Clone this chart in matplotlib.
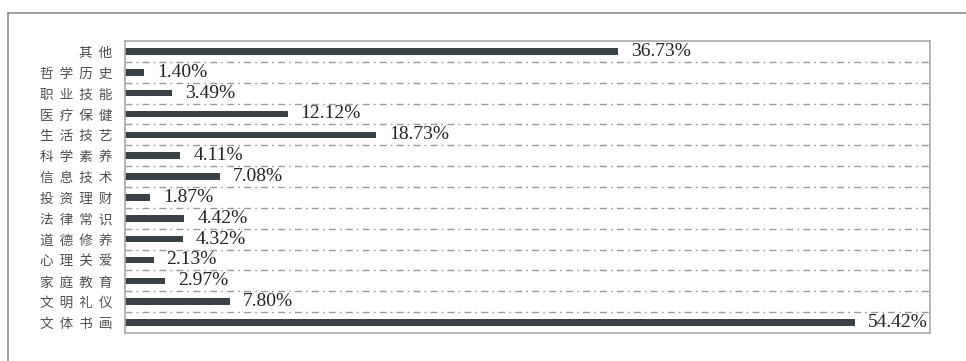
import matplotlib
matplotlib.use('Agg')
import matplotlib.pyplot as plt
from matplotlib.lines import Line2D

# categories from top to bottom, as in the picture
categories = ['其他', '哲学历史', '职业技能', '医疗保健', '生活技艺', '科学素养', '信息技术',
              '投资理财', '法律常识', '道德修养', '心理关爱', '家庭教育', '文明礼仪', '文体书画']
shares = [36.73, 1.40, 3.49, 12.12, 18.73, 4.11, 7.08,
          1.87, 4.42, 4.32, 2.13, 2.97, 7.80, 54.42]
share_labels = ['36.73%', '1.40%', '3.49%', '12.12%', '18.73%', '4.11%', '7.08%',
                '1.87%', '4.42%', '4.32%', '2.13%', '2.97%', '7.80%', '54.42%']


def spaced(label):
    # the original sets the category names with wide letter spacing
    return '  '.join(label)


fig = plt.figure(figsize=(9.66, 3.61), dpi=100)
ax = fig.add_axes([125 / 966, 28 / 361, 805 / 966, 292 / 361])

y = list(range(len(categories)))
ax.barh(y, shares, height=0.32, color='#3b4245')

# value labels right of each bar
for yi, v, lab in zip(y, shares, share_labels):
    ax.annotate(lab, (v, yi), xytext=(13, 0), textcoords='offset pixels',
                ha='left', va='center', fontsize=14, color='#222222',
                family='Liberation Serif')

# dash-dot separators between the rows
for i in range(len(categories) - 1):
    ax.axhline(i + 0.5, color='#9a9a9a', lw=1.0, dashes=(5, 3, 1.2, 3))

ax.set_xlim(0, 60)
ax.set_ylim(len(categories) - 0.5, -0.5)
ax.set_yticks(y)
ax.set_yticklabels([spaced(c) for c in categories], fontsize=9.8, color='#505050',
                   family=['Noto Sans CJK SC', 'DejaVu Sans'])
ax.tick_params(axis='y', length=0, pad=9)
ax.set_xticks([])
for s in ax.spines.values():
    s.set_color('#a8a8a8')
    s.set_linewidth(1.2)

# outer frame of the scanned figure (only top and left visible)
fig.add_artist(Line2D([8 / 966, 1.0], [1 - 13 / 361, 1 - 13 / 361],
                      transform=fig.transFigure, color='#8c8c8c', lw=1.2))
fig.add_artist(Line2D([8 / 966, 8 / 966], [0.0, 1 - 13 / 361],
                      transform=fig.transFigure, color='#8c8c8c', lw=1.2))

fig.savefig('out.png', dpi=100, facecolor='white')
